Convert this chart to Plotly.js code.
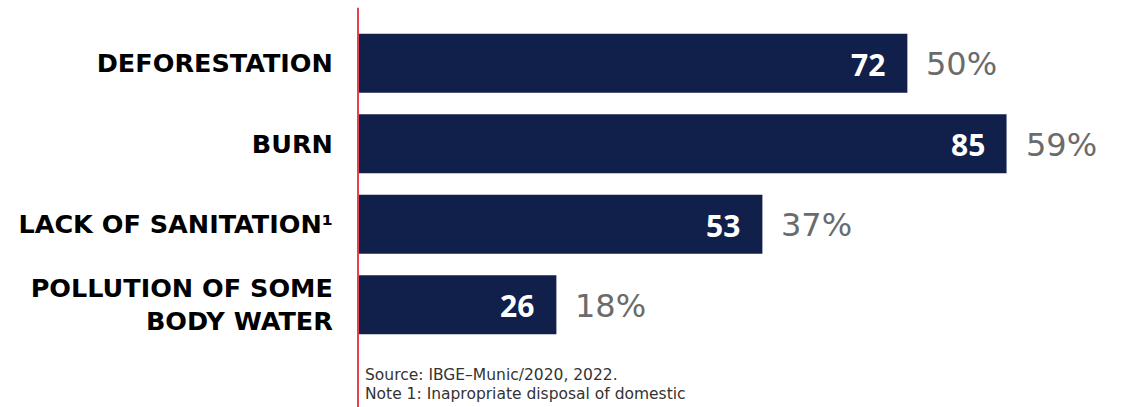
<!DOCTYPE html>
<html>
<head>
<meta charset="utf-8">
<script src="https://cdn.plot.ly/plotly-3.0.1.min.js"></script>
<style>html,body{margin:0;padding:0;background:#fff;}#chart{width:1122px;height:407px;}</style>
</head>
<body>
<div id="chart"></div>
<script>
const categories = ["DEFORESTATION", "BURN", "LACK OF SANITATION¹", "POLLUTION OF SOME<br>BODY WATER"];
const counts = [72, 85, 53, 26];
const percents = ["50%", "59%", "37%", "18%"];
const sourceText = "Source: IBGE–Munic/2020, 2022.";
const noteText = "Note 1: Inapropriate disposal of domestic";

const FONT = "Open Sans, sans-serif";
const WIDE = "DejaVu Sans, sans-serif";
const navy = "#111f4b";

const annotations = [];
categories.forEach((c, i) => {
  annotations.push({
    x: counts[i], y: c, xref: "x", yref: "y",
    text: String(counts[i]), showarrow: false,
    xanchor: "right", xshift: -20, yshift: -1,
    font: {family: FONT, size: 30, color: "#ffffff", weight: 700}
  });
  annotations.push({
    x: counts[i], y: c, xref: "x", yref: "y",
    text: percents[i], showarrow: false,
    xanchor: "left", xshift: 17, yshift: -1,
    font: {family: WIDE, size: 32, color: "#6b6b6b"}
  });
});
annotations.push({
  x: 0, y: -0.094, xref: "paper", yref: "paper", xshift: 5,
  text: sourceText, showarrow: false, xanchor: "left", yanchor: "middle",
  font: {family: WIDE, size: 15.5, color: "#333333"}
});
annotations.push({
  x: 0, y: -0.153, xref: "paper", yref: "paper", xshift: 5,
  text: noteText, showarrow: false, xanchor: "left", yanchor: "middle",
  font: {family: WIDE, size: 15.5, color: "#333333"}
});

const data = [{
  type: "bar", orientation: "h",
  x: counts, y: categories,
  marker: {color: navy},
  width: 0.735,
  hoverinfo: "none"
}];

const layout = {
  width: 1122, height: 407,
  margin: {l: 358, r: 1, t: 23, b: 62},
  paper_bgcolor: "#ffffff", plot_bgcolor: "#ffffff",
  showlegend: false,
  xaxis: {range: [0, 100], visible: false, fixedrange: true},
  yaxis: {
    autorange: "reversed", type: "category",
    showgrid: false, zeroline: false, showline: false,
    ticks: "outside", ticklen: 19, tickcolor: "rgba(0,0,0,0)",
    tickfont: {family: WIDE, size: 25.5, color: "#000000", weight: 700}
  },
  shapes: [{
    type: "line", xref: "paper", yref: "paper",
    x0: 0, x1: 0, y0: -0.2, y1: 1.047,
    line: {color: "#e8414e", width: 2}
  }],
  annotations: annotations
};

Plotly.newPlot("chart", data, layout, {displayModeBar: false, staticPlot: true});
</script>
</body>
</html>
